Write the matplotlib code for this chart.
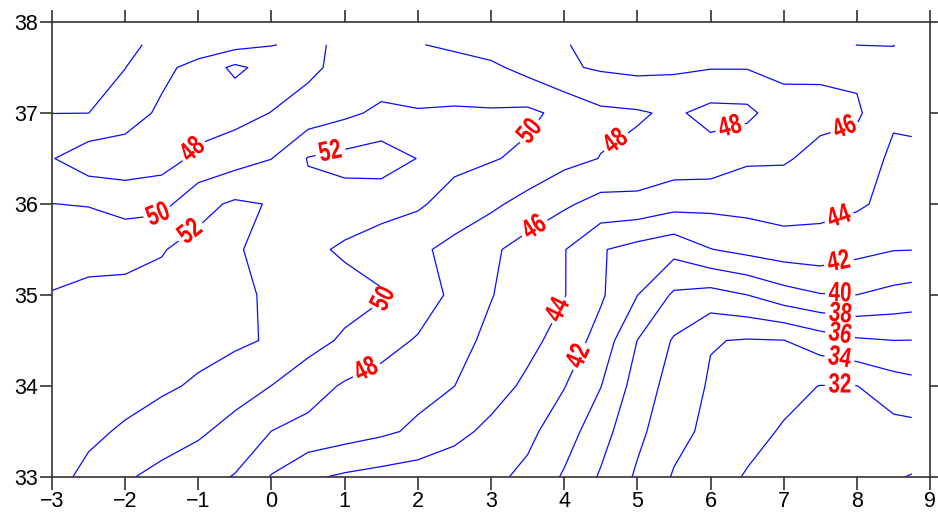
import numpy as np
import matplotlib
matplotlib.use('Agg')
import matplotlib.pyplot as plt
import matplotlib.patheffects as pe
from matplotlib.transforms import Affine2D

# grid (longitude / latitude)
lon = [-3.0, -2.5, -2.0, -1.5, -1.0, -0.5, 0.0, 0.5, 1.0, 1.5, 2.0, 2.5,
       3.0, 3.5, 4.0, 4.5, 5.0, 5.5, 6.0, 6.5, 7.0, 7.5, 8.0, 8.5, 8.75]
lat = [33.0, 33.5, 34.0, 34.5, 35.0, 35.5, 36.0, 36.5, 37.0, 37.5, 37.75]

# values, one row per latitude
z_3300 = [52.7, 51.47, 50.23, 49.41, 48.69, 47.89, 45.87, 44.3, 43.7, 43.3, 43.0, 42.75,
          42.45, 41.55, 39.77, 37.78, 35.7, 33.82, 32.73, 31.86, 31.44, 31.01, 30.59, 30.17, 29.9]
z_3350 = [52.9, 52.43, 51.73, 51.02, 50.32, 49.28, 47.98, 47.44, 46.9, 46.36, 45.65, 44.58,
          43.51, 42.47, 40.94, 38.77, 36.48, 34.64, 33.51, 32.55, 31.84, 31.49, 31.29, 31.34, 31.39]
z_3400 = [53.0, 53.0, 52.8, 52.3, 51.75, 50.87, 49.98, 48.79, 47.79, 47.2, 46.6, 46.01,
          44.86, 43.6, 42.08, 40.05, 37.15, 35.17, 33.79, 33.1, 32.5, 31.96, 31.97, 33.06, 33.38]
z_3450 = [52.7, 52.8, 52.9, 52.8, 52.6, 52.35, 51.81, 50.74, 49.7, 48.78, 47.81, 46.65,
          45.56, 44.56, 43.23, 41.23, 37.98, 35.8, 34.1, 33.87, 33.96, 34.99, 35.75, 35.99, 35.97]
z_3500 = [52.1, 52.4, 52.5, 52.5, 52.5, 52.3, 51.8, 51.29, 50.8, 50.2, 49.18, 47.51,
          46.08, 45.06, 44.08, 42.27, 40.03, 37.7, 37.24, 37.99, 39.18, 39.89, 39.99, 39.44, 39.21]
z_3550 = [51.08, 51.39, 51.4, 51.9, 52.6, 52.2, 51.35, 50.48, 49.69, 49.02, 48.35, 47.46,
          46.34, 45.21, 44.09, 42.15, 41.3, 40.61, 41.94, 42.57, 43.06, 43.2, 42.54, 42.07, 42.04]
z_3600 = [50.02, 49.9, 49.3, 49.4, 51.4, 52.3, 51.9, 51.5, 51.2, 50.76, 50.3, 49.12,
          48.4, 47.3, 46.3, 45.33, 45.4, 44.72, 44.54, 44.64, 44.89, 44.6, 44.3, 43.4, 42.83]
z_3650 = [48.1, 46.8, 46.8, 47.2, 48.41, 49.19, 49.97, 52.1, 52.6, 53.0, 51.95, 50.6,
          50.15, 49.6, 48.58, 47.95, 47.5, 47.14, 47.2, 46.28, 46.19, 45.5, 45.1, 43.62, 43.63]
z_3700 = [50.02, 50.01, 49.04, 47.6, 47.1, 47.3, 48.05, 48.82, 49.58, 50.4, 50.1, 50.2,
          50.2, 50.4, 49.5, 48.4, 48.2, 47.7, 48.6, 48.5, 46.8, 46.5, 46.3, 44.3, 44.4]
z_3750 = [50.27, 50.17, 50.03, 48.55, 47.24, 45.6, 46.73, 47.58, 48.6, 48.8, 49.1, 48.9,
          48.4, 47.36, 46.26, 45.77, 45.5, 45.69, 45.9, 45.9, 45.54, 45.7, 45.6, 44.4, 44.7]
z_3775 = [50.4, 50.3, 50.15, 49.83, 49.24, 48.66, 48.07, 47.6, 48.4, 48.5, 48.1, 47.61,
          47.11, 46.61, 46.1, 45.5, 45.4, 45.3, 45.3, 45.2, 45.0, 45.0, 43.97, 43.97, 44.5]

levels = list(range(30, 54, 2))

# where the labels sit
label_pos = [(-1.07, 36.59), (0.80, 36.59), (3.60, 36.76), (4.74, 36.65),
             (6.27, 36.84), (7.81, 36.90), (-1.55, 35.91), (-1.21, 35.80),
             (3.57, 35.77), (7.77, 35.82), (7.77, 35.30), (7.77, 34.98),
             (7.77, 34.75), (7.77, 34.56), (7.77, 34.34), (7.77, 34.03),
             (1.59, 34.91), (3.98, 34.81), (1.28, 34.20), (4.22, 34.32)]

Z = np.array([z_3300, z_3350, z_3400, z_3450, z_3500, z_3550,
              z_3600, z_3650, z_3700, z_3750, z_3775])


class Narrow(pe.AbstractPathEffect):
    # squeeze the glyphs sideways, like a narrow typeface
    def __init__(self, sx):
        super().__init__()
        self.sx = sx

    def draw_path(self, renderer, gc, tpath, affine, rgbFace=None):
        ext = tpath.get_extents()
        cx = (ext.x0 + ext.x1) / 2
        t = Affine2D().translate(-cx, 0).scale(self.sx, 1).translate(cx, 0) + affine
        renderer.draw_path(gc, tpath, t, rgbFace)


plt.rcParams['font.family'] = ['Liberation Sans', 'DejaVu Sans']

fig = plt.figure(figsize=(9.38, 5.14), dpi=100)
ax = fig.add_axes([0.0554, 0.0720, 0.9361, 0.8852])

cs = ax.contour(lon, lat, Z, levels=levels, colors='#0a0aff', linewidths=0.9)
with plt.rc_context({'font.family': ['Liberation Sans', 'DejaVu Sans'],
                     'font.weight': 'bold'}):
    labels = ax.clabel(cs, fmt='%d', fontsize=20, colors='red', manual=label_pos,
                       inline=True, inline_spacing=0)
for t in labels:
    t.set_path_effects([Narrow(0.74)])

ax.set_xlim(-3, 9)
ax.set_ylim(33, 38)
ax.set_xticks(range(-3, 10))
ax.set_yticks(range(33, 39))
ax.tick_params(direction='out', length=9, width=1.2, color='#333333',
               top=True, right=True, labelsize=15.5, pad=1)
for s in ax.spines.values():
    s.set_color('#333333')
    s.set_linewidth(1.2)

fig.savefig('out.png', dpi=100)
